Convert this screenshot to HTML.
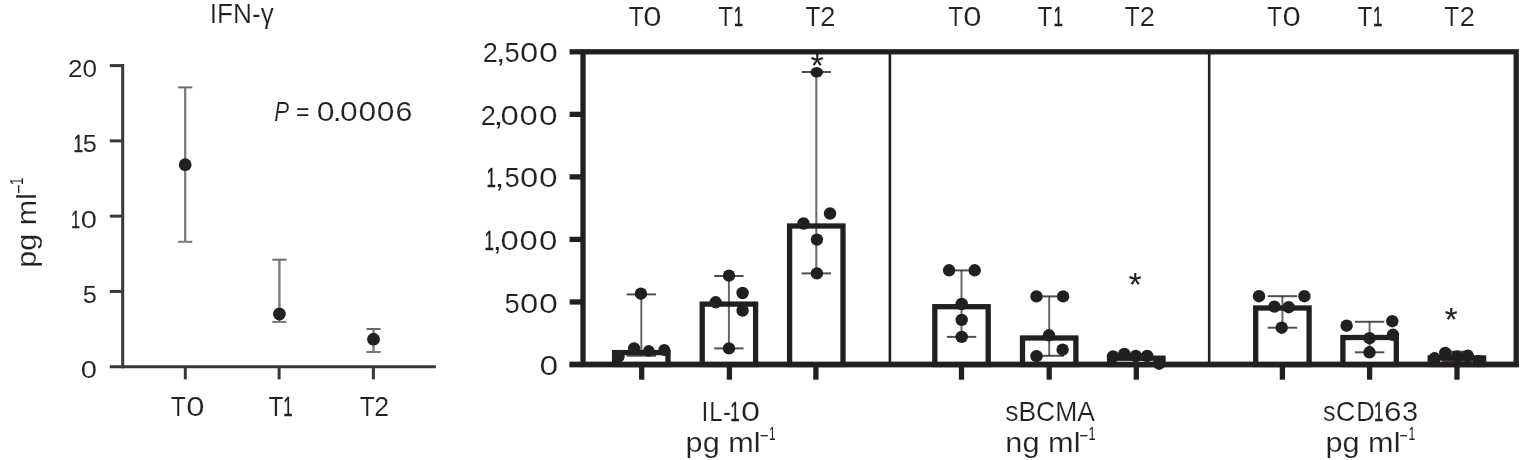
<!DOCTYPE html>
<html lang="en">
<head>
<meta charset="utf-8">
<title>Cytokine levels</title>
<style>
html,body{margin:0;padding:0;background:#fff;}
body{width:1521px;height:460px;overflow:hidden;}
svg{display:block;font-family:"Liberation Sans",sans-serif;}
</style>
</head>
<body>
<svg width="1521" height="460" viewBox="0 0 1521 460">
<rect x="0" y="0" width="1521" height="460" fill="#ffffff"/>
<g id="left">
<text transform="translate(209.78 23) scale(0.96 1)" font-size="27.3" fill="#222021" stroke="#fff" stroke-width="0.18">IFN-γ</text>
<g transform="translate(35.7 0) rotate(-90)">
<text y="0" font-size="27.3" fill="#222021" stroke="#fff" stroke-width="0.18"><tspan x="-267.66" y="0" textLength="74.5" lengthAdjust="spacingAndGlyphs">pg ml</tspan><tspan x="-193.79" y="-11.1" font-size="18.5" stroke="none" textLength="9.38" lengthAdjust="spacingAndGlyphs">−</tspan><tspan x="-185.02" y="-12.7" font-size="18.5" stroke="none" textLength="7.48" lengthAdjust="spacingAndGlyphs">1</tspan></text>
</g>
<line x1="122.7" y1="64.1" x2="122.7" y2="368.2" stroke="#38383a" stroke-width="3" stroke-linecap="butt"/>
<line x1="109.8" y1="366.7" x2="435.9" y2="366.7" stroke="#38383a" stroke-width="3" stroke-linecap="butt"/>
<line x1="109.8" y1="65.6" x2="122.7" y2="65.6" stroke="#38383a" stroke-width="3" stroke-linecap="butt"/>
<text transform="translate(67.89 77) scale(1.08 1)" font-size="24.2" fill="#222021" stroke="#fff" stroke-width="0.1">20</text>
<line x1="109.8" y1="140.88" x2="122.7" y2="140.88" stroke="#38383a" stroke-width="3" stroke-linecap="butt"/>
<text y="152.28" font-size="24.2" fill="#222021" stroke="#fff" stroke-width="0.1"><tspan x="73.49" stroke="#222021" stroke-width="0.45" textLength="9.55" lengthAdjust="spacingAndGlyphs">1</tspan><tspan x="82.89" textLength="14.08" lengthAdjust="spacingAndGlyphs">5</tspan></text>
<line x1="109.8" y1="216.15" x2="122.7" y2="216.15" stroke="#38383a" stroke-width="3" stroke-linecap="butt"/>
<text y="227.55" font-size="24.2" fill="#222021" stroke="#fff" stroke-width="0.1"><tspan x="71.22" stroke="#222021" stroke-width="0.45" textLength="8.64" lengthAdjust="spacingAndGlyphs">1</tspan><tspan x="80.86" textLength="16.17" lengthAdjust="spacingAndGlyphs">0</tspan></text>
<line x1="109.8" y1="291.43" x2="122.7" y2="291.43" stroke="#38383a" stroke-width="3" stroke-linecap="butt"/>
<text y="302.82" font-size="24.2" fill="#222021" stroke="#fff" stroke-width="0.1"><tspan x="82.89" textLength="14.08" lengthAdjust="spacingAndGlyphs">5</tspan></text>
<text y="378.1" font-size="24.2" fill="#222021" stroke="#fff" stroke-width="0.1"><tspan x="80.86" textLength="16.17" lengthAdjust="spacingAndGlyphs">0</tspan></text>
<line x1="185.3" y1="366.7" x2="185.3" y2="379.4" stroke="#38383a" stroke-width="3" stroke-linecap="butt"/>
<line x1="279.1" y1="366.7" x2="279.1" y2="379.4" stroke="#38383a" stroke-width="3" stroke-linecap="butt"/>
<line x1="373.4" y1="366.7" x2="373.4" y2="379.4" stroke="#38383a" stroke-width="3" stroke-linecap="butt"/>
<text y="416.3" font-size="27.3" fill="#222021" stroke="#fff" stroke-width="0.18"><tspan x="170.85" textLength="14.91" lengthAdjust="spacingAndGlyphs">T</tspan><tspan x="186.32" textLength="18.27" lengthAdjust="spacingAndGlyphs">0</tspan></text>
<text y="416.3" font-size="27.3" fill="#222021" stroke="#fff" stroke-width="0.18"><tspan x="268.55" textLength="14.91" lengthAdjust="spacingAndGlyphs">T</tspan><tspan x="283.16" stroke="#222021" stroke-width="0.45" textLength="9.41" lengthAdjust="spacingAndGlyphs">1</tspan></text>
<text y="416.3" font-size="27.3" fill="#222021" stroke="#fff" stroke-width="0.18"><tspan x="359.65" textLength="14.91" lengthAdjust="spacingAndGlyphs">T</tspan><tspan x="374.25" textLength="14.89" lengthAdjust="spacingAndGlyphs">2</tspan></text>
<text y="120.5" font-size="27.3" fill="#222021" stroke="#fff" stroke-width="0.18"><tspan x="274.32" y="120.5" font-style="italic" textLength="14.82" lengthAdjust="spacingAndGlyphs">P</tspan><tspan x="295.97" y="119.7" font-size="23.3" stroke="none" textLength="13.46" lengthAdjust="spacingAndGlyphs">=</tspan><tspan x="316.85" y="120.5" textLength="17.8" lengthAdjust="spacingAndGlyphs">0</tspan><tspan x="332.43" y="120.5" textLength="9.34" lengthAdjust="spacingAndGlyphs">.</tspan><tspan x="340.06" y="120.5" textLength="17.68" lengthAdjust="spacingAndGlyphs">0</tspan><tspan x="358.46" y="120.5" textLength="17.68" lengthAdjust="spacingAndGlyphs">0</tspan><tspan x="376.86" y="120.5" textLength="17.68" lengthAdjust="spacingAndGlyphs">0</tspan><tspan x="395.46" y="120.5" textLength="16.87" lengthAdjust="spacingAndGlyphs">6</tspan></text>
<line x1="185.2" y1="87.4" x2="185.2" y2="241.8" stroke="#7d7f83" stroke-width="2.4" stroke-linecap="butt"/>
<line x1="178.1" y1="87.4" x2="192.3" y2="87.4" stroke="#696b6f" stroke-width="2" stroke-linecap="butt"/>
<line x1="178.1" y1="241.8" x2="192.3" y2="241.8" stroke="#75777b" stroke-width="2" stroke-linecap="butt"/>
<circle cx="185.2" cy="164.7" r="6.4" fill="#232123"/>
<line x1="279.4" y1="259.7" x2="279.4" y2="321.9" stroke="#7d7f83" stroke-width="2.4" stroke-linecap="butt"/>
<line x1="272.3" y1="259.7" x2="286.5" y2="259.7" stroke="#696b6f" stroke-width="2" stroke-linecap="butt"/>
<line x1="272.3" y1="321.9" x2="286.5" y2="321.9" stroke="#75777b" stroke-width="2" stroke-linecap="butt"/>
<circle cx="279.4" cy="314" r="6.4" fill="#232123"/>
<line x1="373.5" y1="329" x2="373.5" y2="352" stroke="#7d7f83" stroke-width="2.4" stroke-linecap="butt"/>
<line x1="366.4" y1="329" x2="380.6" y2="329" stroke="#696b6f" stroke-width="2" stroke-linecap="butt"/>
<line x1="366.4" y1="352" x2="380.6" y2="352" stroke="#75777b" stroke-width="2" stroke-linecap="butt"/>
<circle cx="373.5" cy="339.2" r="6.4" fill="#232123"/>
</g>
<g id="right">
<rect x="583.0" y="51.8" width="933.2" height="312.7" fill="none" stroke="#221f20" stroke-width="5.3"/>
<line x1="569.6" y1="51.8" x2="583" y2="51.8" stroke="#221f20" stroke-width="5.3" stroke-linecap="butt"/>
<text y="62.4" font-size="27.3" fill="#222021" stroke="#fff" stroke-width="0.18"><tspan x="482.73" textLength="15.14" lengthAdjust="spacingAndGlyphs">2</tspan><tspan x="495.8" textLength="9.91" lengthAdjust="spacingAndGlyphs">,</tspan><tspan x="504.6" textLength="15.25" lengthAdjust="spacingAndGlyphs">5</tspan><tspan x="520.02" textLength="18.27" lengthAdjust="spacingAndGlyphs">0</tspan><tspan x="539.08" textLength="18.85" lengthAdjust="spacingAndGlyphs">0</tspan></text>
<line x1="569.6" y1="114.34" x2="583" y2="114.34" stroke="#221f20" stroke-width="5.3" stroke-linecap="butt"/>
<text y="124.94" font-size="27.3" fill="#222021" stroke="#fff" stroke-width="0.18"><tspan x="480.63" textLength="15.14" lengthAdjust="spacingAndGlyphs">2</tspan><tspan x="493.4" textLength="9.91" lengthAdjust="spacingAndGlyphs">,</tspan><tspan x="500.42" textLength="18.27" lengthAdjust="spacingAndGlyphs">0</tspan><tspan x="519.62" textLength="18.27" lengthAdjust="spacingAndGlyphs">0</tspan><tspan x="539.09" textLength="18.61" lengthAdjust="spacingAndGlyphs">0</tspan></text>
<line x1="569.6" y1="176.88" x2="583" y2="176.88" stroke="#221f20" stroke-width="5.3" stroke-linecap="butt"/>
<text y="187.48" font-size="27.3" fill="#222021" stroke="#fff" stroke-width="0.18"><tspan x="486.46" stroke="#222021" stroke-width="0.45" textLength="9.41" lengthAdjust="spacingAndGlyphs">1</tspan><tspan x="494.6" textLength="9.91" lengthAdjust="spacingAndGlyphs">,</tspan><tspan x="504.6" textLength="15.25" lengthAdjust="spacingAndGlyphs">5</tspan><tspan x="520.02" textLength="18.27" lengthAdjust="spacingAndGlyphs">0</tspan><tspan x="539.09" textLength="18.61" lengthAdjust="spacingAndGlyphs">0</tspan></text>
<line x1="569.6" y1="239.42" x2="583" y2="239.42" stroke="#221f20" stroke-width="5.3" stroke-linecap="butt"/>
<text y="250.02" font-size="27.3" fill="#222021" stroke="#fff" stroke-width="0.18"><tspan x="484.41" stroke="#222021" stroke-width="0.45" textLength="9.41" lengthAdjust="spacingAndGlyphs">1</tspan><tspan x="492.59" textLength="9.62" lengthAdjust="spacingAndGlyphs">,</tspan><tspan x="500.42" textLength="18.27" lengthAdjust="spacingAndGlyphs">0</tspan><tspan x="519.62" textLength="18.27" lengthAdjust="spacingAndGlyphs">0</tspan><tspan x="539.11" textLength="18.38" lengthAdjust="spacingAndGlyphs">0</tspan></text>
<line x1="569.6" y1="301.96" x2="583" y2="301.96" stroke="#221f20" stroke-width="5.3" stroke-linecap="butt"/>
<text y="312.56" font-size="27.3" fill="#222021" stroke="#fff" stroke-width="0.18"><tspan x="504.6" textLength="15.25" lengthAdjust="spacingAndGlyphs">5</tspan><tspan x="520.02" textLength="18.27" lengthAdjust="spacingAndGlyphs">0</tspan><tspan x="539.08" textLength="18.85" lengthAdjust="spacingAndGlyphs">0</tspan></text>
<line x1="569.6" y1="364.5" x2="583" y2="364.5" stroke="#221f20" stroke-width="5.3" stroke-linecap="butt"/>
<text y="375.1" font-size="27.3" fill="#222021" stroke="#fff" stroke-width="0.18"><tspan x="539.58" textLength="18.73" lengthAdjust="spacingAndGlyphs">0</tspan></text>
<line x1="889.9" y1="51.8" x2="889.9" y2="364.5" stroke="#221f20" stroke-width="2.6" stroke-linecap="butt"/>
<line x1="1209.2" y1="51.8" x2="1209.2" y2="364.5" stroke="#221f20" stroke-width="2.6" stroke-linecap="butt"/>
<rect x="614.6" y="352.6" width="53.4" height="11.9" fill="#fff" stroke="#221f20" stroke-width="5.3"/>
<line x1="641.7" y1="364.5" x2="641.7" y2="379.7" stroke="#221f20" stroke-width="5.3" stroke-linecap="butt"/>
<line x1="641.3" y1="294.4" x2="641.3" y2="355.7" stroke="#221f20" stroke-opacity="0.68" stroke-width="2.0" stroke-linecap="butt"/>
<line x1="626.6" y1="294.4" x2="656" y2="294.4" stroke="#221f20" stroke-opacity="0.78" stroke-width="2.0" stroke-linecap="butt"/>
<line x1="626.6" y1="355.7" x2="656" y2="355.7" stroke="#221f20" stroke-opacity="0.78" stroke-width="2.0" stroke-linecap="butt"/>
<circle cx="640.9" cy="293.7" r="6.2" fill="#221f20"/>
<circle cx="618.5" cy="356.5" r="6.2" fill="#221f20"/>
<circle cx="634.1" cy="348.4" r="6.2" fill="#221f20"/>
<ellipse cx="648.8" cy="350.9" rx="5.8" ry="5.8" fill="#221f20"/>
<ellipse cx="664.3" cy="349.9" rx="6.0" ry="6.0" fill="#221f20"/>
<rect x="702.2" y="304.1" width="53.4" height="60.4" fill="#fff" stroke="#221f20" stroke-width="5.3"/>
<line x1="729.4" y1="364.5" x2="729.4" y2="379.7" stroke="#221f20" stroke-width="5.3" stroke-linecap="butt"/>
<line x1="728.9" y1="276" x2="728.9" y2="348.4" stroke="#221f20" stroke-opacity="0.68" stroke-width="2.0" stroke-linecap="butt"/>
<line x1="714.2" y1="276" x2="743.6" y2="276" stroke="#221f20" stroke-opacity="0.78" stroke-width="2.0" stroke-linecap="butt"/>
<line x1="714.2" y1="348.4" x2="743.6" y2="348.4" stroke="#221f20" stroke-opacity="0.78" stroke-width="2.0" stroke-linecap="butt"/>
<circle cx="729" cy="275.6" r="6.2" fill="#221f20"/>
<circle cx="742.6" cy="293" r="6.2" fill="#221f20"/>
<circle cx="715.7" cy="302.3" r="6.2" fill="#221f20"/>
<circle cx="742.6" cy="310.5" r="6.2" fill="#221f20"/>
<circle cx="729" cy="348.4" r="6.2" fill="#221f20"/>
<rect x="789.6" y="226" width="53.4" height="138.5" fill="#fff" stroke="#221f20" stroke-width="5.3"/>
<line x1="815.9" y1="364.5" x2="815.9" y2="379.7" stroke="#221f20" stroke-width="5.3" stroke-linecap="butt"/>
<line x1="816.3" y1="72" x2="816.3" y2="273.4" stroke="#221f20" stroke-opacity="0.68" stroke-width="2.0" stroke-linecap="butt"/>
<line x1="801.6" y1="72" x2="831" y2="72" stroke="#221f20" stroke-opacity="0.78" stroke-width="2.0" stroke-linecap="butt"/>
<line x1="801.6" y1="273.4" x2="831" y2="273.4" stroke="#221f20" stroke-opacity="0.78" stroke-width="2.0" stroke-linecap="butt"/>
<ellipse cx="816.7" cy="72.2" rx="6.25" ry="5.3" fill="#221f20"/>
<circle cx="830" cy="213.5" r="6.2" fill="#221f20"/>
<circle cx="803.5" cy="223.5" r="6.2" fill="#221f20"/>
<circle cx="816.9" cy="239.6" r="6.2" fill="#221f20"/>
<circle cx="816.9" cy="273.4" r="6.2" fill="#221f20"/>
<rect x="934.8" y="306.7" width="53.4" height="57.8" fill="#fff" stroke="#221f20" stroke-width="5.3"/>
<line x1="961.5" y1="364.5" x2="961.5" y2="379.7" stroke="#221f20" stroke-width="5.3" stroke-linecap="butt"/>
<line x1="961.5" y1="270.4" x2="961.5" y2="336.9" stroke="#221f20" stroke-opacity="0.68" stroke-width="2.0" stroke-linecap="butt"/>
<line x1="946.8" y1="270.4" x2="976.2" y2="270.4" stroke="#221f20" stroke-opacity="0.78" stroke-width="2.0" stroke-linecap="butt"/>
<line x1="946.8" y1="336.9" x2="976.2" y2="336.9" stroke="#221f20" stroke-opacity="0.78" stroke-width="2.0" stroke-linecap="butt"/>
<circle cx="949.1" cy="270.3" r="6.2" fill="#221f20"/>
<circle cx="974.7" cy="270.3" r="6.2" fill="#221f20"/>
<circle cx="961.7" cy="304" r="6.2" fill="#221f20"/>
<circle cx="961.7" cy="319.9" r="6.2" fill="#221f20"/>
<circle cx="961.7" cy="336.9" r="6.2" fill="#221f20"/>
<rect x="1022.5" y="338" width="53.4" height="26.5" fill="#fff" stroke="#221f20" stroke-width="5.3"/>
<line x1="1049.2" y1="364.5" x2="1049.2" y2="379.7" stroke="#221f20" stroke-width="5.3" stroke-linecap="butt"/>
<line x1="1049.2" y1="296.4" x2="1049.2" y2="355.8" stroke="#221f20" stroke-opacity="0.68" stroke-width="2.0" stroke-linecap="butt"/>
<line x1="1034.5" y1="296.4" x2="1063.9" y2="296.4" stroke="#221f20" stroke-opacity="0.78" stroke-width="2.0" stroke-linecap="butt"/>
<line x1="1034.5" y1="355.8" x2="1063.9" y2="355.8" stroke="#221f20" stroke-opacity="0.78" stroke-width="2.0" stroke-linecap="butt"/>
<circle cx="1036.5" cy="296.4" r="6.2" fill="#221f20"/>
<circle cx="1063.1" cy="296.4" r="6.2" fill="#221f20"/>
<circle cx="1049" cy="335.3" r="6.2" fill="#221f20"/>
<circle cx="1062.6" cy="349.7" r="6.2" fill="#221f20"/>
<circle cx="1036.5" cy="356.2" r="6.2" fill="#221f20"/>
<rect x="1109.6" y="358.2" width="53.4" height="6.3" fill="#fff" stroke="#221f20" stroke-width="5.3"/>
<line x1="1136.3" y1="364.5" x2="1136.3" y2="379.7" stroke="#221f20" stroke-width="5.3" stroke-linecap="butt"/>
<line x1="1136.3" y1="354" x2="1136.3" y2="359.5" stroke="#221f20" stroke-opacity="0.68" stroke-width="2.0" stroke-linecap="butt"/>
<line x1="1121.6" y1="354" x2="1151" y2="354" stroke="#221f20" stroke-opacity="0.78" stroke-width="2.0" stroke-linecap="butt"/>
<line x1="1121.6" y1="359.5" x2="1151" y2="359.5" stroke="#221f20" stroke-opacity="0.78" stroke-width="2.0" stroke-linecap="butt"/>
<circle cx="1113" cy="356.5" r="6.2" fill="#221f20"/>
<circle cx="1124.3" cy="353.9" r="6.2" fill="#221f20"/>
<circle cx="1135.8" cy="356" r="6.2" fill="#221f20"/>
<circle cx="1147.2" cy="356" r="6.2" fill="#221f20"/>
<circle cx="1159.1" cy="363.7" r="6.2" fill="#221f20"/>
<rect x="1255.7" y="308" width="53.4" height="56.5" fill="#fff" stroke="#221f20" stroke-width="5.3"/>
<line x1="1282.4" y1="364.5" x2="1282.4" y2="379.7" stroke="#221f20" stroke-width="5.3" stroke-linecap="butt"/>
<line x1="1282.4" y1="296.2" x2="1282.4" y2="327.7" stroke="#221f20" stroke-opacity="0.68" stroke-width="2.0" stroke-linecap="butt"/>
<line x1="1267.7" y1="296.2" x2="1297.1" y2="296.2" stroke="#221f20" stroke-opacity="0.78" stroke-width="2.0" stroke-linecap="butt"/>
<line x1="1267.7" y1="327.7" x2="1297.1" y2="327.7" stroke="#221f20" stroke-opacity="0.78" stroke-width="2.0" stroke-linecap="butt"/>
<circle cx="1259" cy="296.2" r="6.2" fill="#221f20"/>
<circle cx="1304.4" cy="296.2" r="6.2" fill="#221f20"/>
<circle cx="1274.4" cy="306.6" r="6.2" fill="#221f20"/>
<circle cx="1288.7" cy="307.2" r="6.2" fill="#221f20"/>
<circle cx="1281.7" cy="327.7" r="6.2" fill="#221f20"/>
<rect x="1342.9" y="337.5" width="53.4" height="27" fill="#fff" stroke="#221f20" stroke-width="5.3"/>
<line x1="1369.6" y1="364.5" x2="1369.6" y2="379.7" stroke="#221f20" stroke-width="5.3" stroke-linecap="butt"/>
<line x1="1369.6" y1="321.8" x2="1369.6" y2="352.3" stroke="#221f20" stroke-opacity="0.68" stroke-width="2.0" stroke-linecap="butt"/>
<line x1="1354.9" y1="321.8" x2="1384.3" y2="321.8" stroke="#221f20" stroke-opacity="0.78" stroke-width="2.0" stroke-linecap="butt"/>
<line x1="1354.9" y1="352.3" x2="1384.3" y2="352.3" stroke="#221f20" stroke-opacity="0.78" stroke-width="2.0" stroke-linecap="butt"/>
<circle cx="1346.6" cy="325.7" r="6.2" fill="#221f20"/>
<circle cx="1392.3" cy="321.2" r="6.2" fill="#221f20"/>
<circle cx="1393" cy="334.8" r="6.2" fill="#221f20"/>
<circle cx="1369.5" cy="338.2" r="6.2" fill="#221f20"/>
<circle cx="1369.5" cy="352.3" r="6.2" fill="#221f20"/>
<rect x="1430.2" y="358" width="53.4" height="6.5" fill="#fff" stroke="#221f20" stroke-width="5.3"/>
<line x1="1457" y1="364.5" x2="1457" y2="379.7" stroke="#221f20" stroke-width="5.3" stroke-linecap="butt"/>
<line x1="1456.9" y1="352" x2="1456.9" y2="360.9" stroke="#221f20" stroke-opacity="0.68" stroke-width="2.0" stroke-linecap="butt"/>
<line x1="1442.15" y1="352" x2="1471.65" y2="352" stroke="#221f20" stroke-opacity="0.78" stroke-width="2.6" stroke-linecap="butt"/>
<line x1="1442.15" y1="360.9" x2="1471.65" y2="360.9" stroke="#221f20" stroke-opacity="0.78" stroke-width="2.6" stroke-linecap="butt"/>
<circle cx="1434.6" cy="358.3" r="6.2" fill="#221f20"/>
<circle cx="1445.3" cy="353" r="6.2" fill="#221f20"/>
<circle cx="1457" cy="356.4" r="6.2" fill="#221f20"/>
<circle cx="1467.8" cy="355.8" r="6.2" fill="#221f20"/>
<circle cx="1478.5" cy="361" r="6.2" fill="#221f20"/>
<line x1="569.6" y1="364.5" x2="1518.85" y2="364.5" stroke="#221f20" stroke-width="5.3" stroke-linecap="butt"/>
<text x="810.77" y="76.91" font-size="33" fill="#221f20" stroke="#221f20" stroke-width="0.15">*</text>
<text x="1128.67" y="295.71" font-size="33" fill="#221f20" stroke="#221f20" stroke-width="0.15">*</text>
<text x="1444.77" y="331.41" font-size="33" fill="#221f20" stroke="#221f20" stroke-width="0.15">*</text>
<text y="25.7" font-size="27.3" fill="#222021" stroke="#fff" stroke-width="0.18"><tspan x="628.65" textLength="14.91" lengthAdjust="spacingAndGlyphs">T</tspan><tspan x="643.22" textLength="18.27" lengthAdjust="spacingAndGlyphs">0</tspan></text>
<text y="25.7" font-size="27.3" fill="#222021" stroke="#fff" stroke-width="0.18"><tspan x="718.35" textLength="14.91" lengthAdjust="spacingAndGlyphs">T</tspan><tspan x="733.86" stroke="#222021" stroke-width="0.45" textLength="9.41" lengthAdjust="spacingAndGlyphs">1</tspan></text>
<text y="25.7" font-size="27.3" fill="#222021" stroke="#fff" stroke-width="0.18"><tspan x="805.55" textLength="14.91" lengthAdjust="spacingAndGlyphs">T</tspan><tspan x="820.33" textLength="15.14" lengthAdjust="spacingAndGlyphs">2</tspan></text>
<text y="25.7" font-size="27.3" fill="#222021" stroke="#fff" stroke-width="0.18"><tspan x="948.15" textLength="14.91" lengthAdjust="spacingAndGlyphs">T</tspan><tspan x="963.32" textLength="18.27" lengthAdjust="spacingAndGlyphs">0</tspan></text>
<text y="25.7" font-size="27.3" fill="#222021" stroke="#fff" stroke-width="0.18"><tspan x="1037.55" textLength="14.91" lengthAdjust="spacingAndGlyphs">T</tspan><tspan x="1053.56" stroke="#222021" stroke-width="0.45" textLength="9.41" lengthAdjust="spacingAndGlyphs">1</tspan></text>
<text y="25.7" font-size="27.3" fill="#222021" stroke="#fff" stroke-width="0.18"><tspan x="1124.85" textLength="14.91" lengthAdjust="spacingAndGlyphs">T</tspan><tspan x="1139.73" textLength="15.14" lengthAdjust="spacingAndGlyphs">2</tspan></text>
<text y="25.7" font-size="27.3" fill="#222021" stroke="#fff" stroke-width="0.18"><tspan x="1267.35" textLength="14.91" lengthAdjust="spacingAndGlyphs">T</tspan><tspan x="1282.52" textLength="18.27" lengthAdjust="spacingAndGlyphs">0</tspan></text>
<text y="25.7" font-size="27.3" fill="#222021" stroke="#fff" stroke-width="0.18"><tspan x="1357.55" textLength="14.91" lengthAdjust="spacingAndGlyphs">T</tspan><tspan x="1373.06" stroke="#222021" stroke-width="0.45" textLength="9.41" lengthAdjust="spacingAndGlyphs">1</tspan></text>
<text y="25.7" font-size="27.3" fill="#222021" stroke="#fff" stroke-width="0.18"><tspan x="1444.35" textLength="14.91" lengthAdjust="spacingAndGlyphs">T</tspan><tspan x="1459.73" textLength="15.14" lengthAdjust="spacingAndGlyphs">2</tspan></text>
<text y="420.5" font-size="27.3" fill="#222021" stroke="#fff" stroke-width="0.18"><tspan x="701.62" textLength="6.85" lengthAdjust="spacingAndGlyphs">I</tspan><tspan x="709.23" textLength="13.37" lengthAdjust="spacingAndGlyphs">L</tspan><tspan x="723.04" textLength="7.91" lengthAdjust="spacingAndGlyphs">-</tspan><tspan x="730.16" stroke="#222021" stroke-width="0.45" textLength="9.41" lengthAdjust="spacingAndGlyphs">1</tspan><tspan x="741.06" textLength="19.08" lengthAdjust="spacingAndGlyphs">0</tspan></text>
<text transform="translate(1005.16 420.5) scale(0.97 1)" font-size="27.3" fill="#222021" stroke="#fff" stroke-width="0.18">sBCMA</text>
<text y="420.5" font-size="27.3" fill="#222021" stroke="#fff" stroke-width="0.18"><tspan x="1323.1" textLength="12.61" lengthAdjust="spacingAndGlyphs">s</tspan><tspan x="1335.72" textLength="19.61" lengthAdjust="spacingAndGlyphs">C</tspan><tspan x="1356.29" textLength="18.53" lengthAdjust="spacingAndGlyphs">D</tspan><tspan x="1373.96" stroke="#222021" stroke-width="0.45" textLength="9.41" lengthAdjust="spacingAndGlyphs">1</tspan><tspan x="1384.1" textLength="17.48" lengthAdjust="spacingAndGlyphs">6</tspan><tspan x="1402.1" textLength="16.07" lengthAdjust="spacingAndGlyphs">3</tspan></text>
<text y="452.4" font-size="27.3" fill="#222021" stroke="#fff" stroke-width="0.18"><tspan x="685.63" y="452.4" textLength="74.82" lengthAdjust="spacingAndGlyphs">pg ml</tspan><tspan x="759.86" y="441.7" font-size="18.5" stroke="none" textLength="8.77" lengthAdjust="spacingAndGlyphs">−</tspan><tspan x="768.9" y="440.1" font-size="18.5" stroke="none" textLength="6.58" lengthAdjust="spacingAndGlyphs">1</tspan></text>
<text y="452.4" font-size="27.3" fill="#222021" stroke="#fff" stroke-width="0.18"><tspan x="1005.36" y="452.4" textLength="75.09" lengthAdjust="spacingAndGlyphs">ng ml</tspan><tspan x="1079.14" y="441.7" font-size="18.5" stroke="none" textLength="9.02" lengthAdjust="spacingAndGlyphs">−</tspan><tspan x="1088.43" y="440.1" font-size="18.5" stroke="none" textLength="7.09" lengthAdjust="spacingAndGlyphs">1</tspan></text>
<text y="452.4" font-size="27.3" fill="#222021" stroke="#fff" stroke-width="0.18"><tspan x="1325.53" y="452.4" textLength="74.92" lengthAdjust="spacingAndGlyphs">pg ml</tspan><tspan x="1399.51" y="441.7" font-size="18.5" stroke="none" textLength="8.17" lengthAdjust="spacingAndGlyphs">−</tspan><tspan x="1408.38" y="440.1" font-size="18.5" stroke="none" textLength="6.71" lengthAdjust="spacingAndGlyphs">1</tspan></text>
</g>
</svg>
</body>
</html>
